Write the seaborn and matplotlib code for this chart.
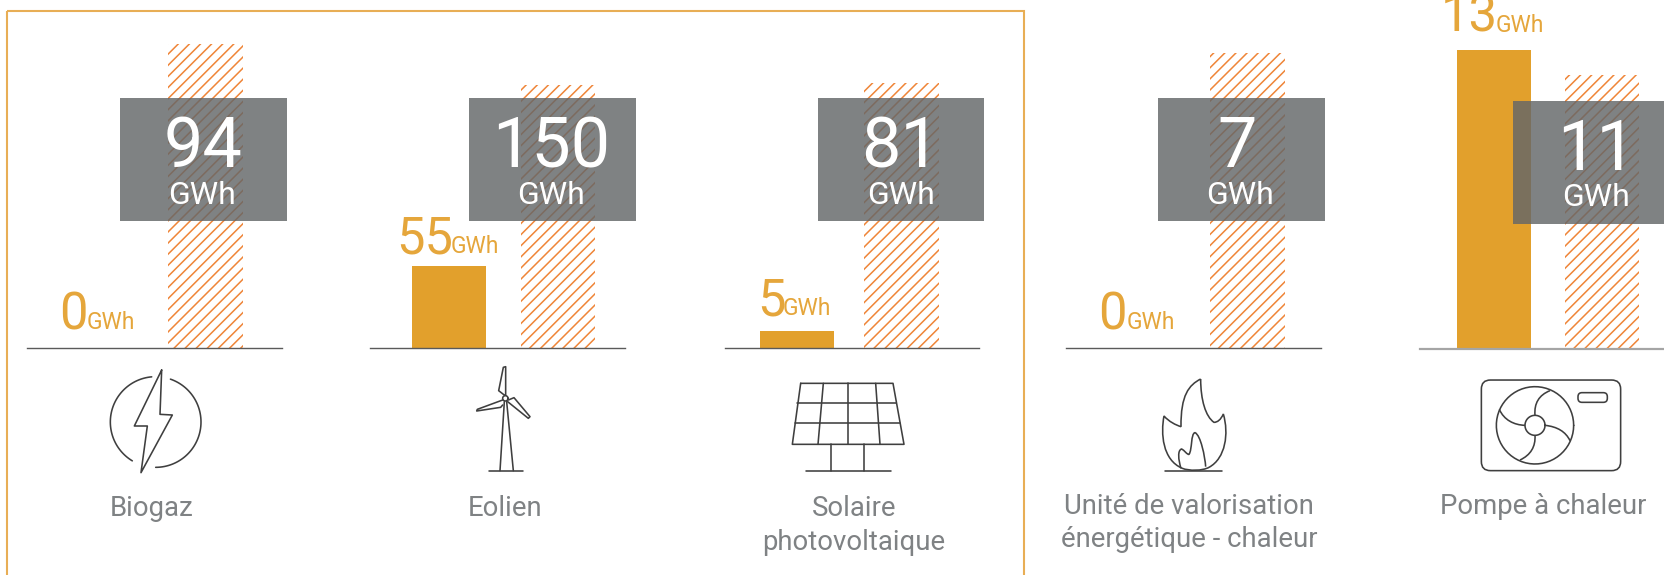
import matplotlib
matplotlib.use("Agg")
import matplotlib.pyplot as plt
import numpy as np
import pandas as pd
import seaborn as sns
from matplotlib.path import Path
from matplotlib.patches import PathPatch, Rectangle, FancyBboxPatch

# ---------- data ----------
categories = ["Biogaz", "Eolien", "Solaire\nphotovoltaique",
              "Unité de valorisation\nénergétique - chaleur", "Pompe à chaleur"]
series_names = ["Production", "Objectif"]
production_labels = ["0", "55", "5", "0", "13"]
objective_labels = ["94", "150", "81", "7", "11"]
unit = "GWh"
# bar heights (each panel has its own scale)
production_heights = [0, 46.6, 5, 0, 12]
objective_heights = [94, 150, 81, 7, 11]

# ---------- style ----------
W, H = 1665, 575
GOLD = "#E2A02C"
GOLD_TXT = "#E5A63B"
ORANGE = "#EF8538"
FRAME = "#E8AE55"
GREY_TXT = "#7F8284"
ICON = "#3F3F3F"
BOX = "#636668"
sns.set_theme(style="white")
plt.rcParams["font.family"] = ["Roboto", "DejaVu Sans"]
plt.rcParams["hatch.linewidth"] = 1.1

# panel layout in pixels
base_l = [27, 370, 725, 1066, 1420]
base_r = [282, 624.5, 979.5, 1320.5, 1676]
base_y = [347.5, 347.5, 347.5, 347.5, 349]
center0 = [97.5, 449, 797, 1139.5, 1494]
center1 = [205.5, 558, 901.5, 1247.5, 1602]
bar_w = 74.5
obj_top = [44, 85, 83, 53, 75]
base_col = ["#5A5A5A"] * 4 + ["#A5A5A5"]
base_lw = [1.0] * 4 + [1.6]
box_x = [(120, 287), (469, 636), (818, 984), (1158, 1325), (1513, 1680)]
box_y = [(98, 221)] * 4 + [(101, 224)]
big_cx = [203, 551, 901, 1237, 1597]
big_base = [167, 167, 167, 167, 170]
unit_cx = [202, 551, 901, 1240, 1596]
unit_base = [203.5, 203.5, 203.5, 203.5, 206]
gold_x = [59.5, 396, 757, 1098.5, 1441]
gold_ux = [87, 451, 783, 1127, 1496]
gold_base = [329, 253, 315, 329, 32]
label_cx = [152, 505, 854, 1189, 1543]
label_base = [516, 516, 516, 514, 514]
label_step = [33.5, 33.5, 33.5, 33, 33]

fig = plt.figure(figsize=(W / 100, H / 100), dpi=100, facecolor="white")

# ---------- bars ----------
for i, cat in enumerate(categories):
    l, r, by = base_l[i], base_r[i], base_y[i]
    ax = fig.add_axes([l / W, 1 - by / H, (r - l) / W, by / H], zorder=1)
    df = pd.DataFrame({"serie": series_names,
                       "valeur": [production_heights[i], objective_heights[i]]})
    step = center1[i] - center0[i]
    sns.barplot(data=df, x="serie", y="valeur", order=series_names, ax=ax,
                width=bar_w / step, color=GOLD, saturation=1, errorbar=None)
    bars = ax.patches
    bars[0].set_facecolor(GOLD)
    bars[0].set_linewidth(0)
    bars[1].set_facecolor("none")
    bars[1].set_edgecolor(ORANGE)
    bars[1].set_hatch("///")
    bars[1].set_linewidth(0)
    ax.set_xlim((l - center0[i]) / step, (r - center0[i]) / step)
    ax.set_ylim(0, objective_heights[i] * by / (by - obj_top[i]))
    ax.set_xlabel("")
    ax.set_ylabel("")
    ax.set_xticks([])
    ax.set_yticks([])
    ax.patch.set_alpha(0)
    sns.despine(ax=ax, left=True, top=True, right=True)
    ax.spines["bottom"].set_color(base_col[i])
    ax.spines["bottom"].set_linewidth(base_lw[i])

# ---------- overlay in pixel coordinates ----------
ov = fig.add_axes([0, 0, 1, 1], zorder=5)
ov.set_xlim(0, W)
ov.set_ylim(H, 0)
ov.axis("off")
ov.patch.set_alpha(0)

ov.add_patch(Rectangle((7.5, 11), 1016.5, 620, fill=False, ec=FRAME, lw=1.5, clip_on=True))

for i in range(5):
    (x0, x1), (y0, y1) = box_x[i], box_y[i]
    ov.add_patch(Rectangle((x0, y0), x1 - x0, y1 - y0, fc=BOX, ec="none", alpha=0.82, zorder=3))
    ov.text(big_cx[i], big_base[i], objective_labels[i], color="white", fontsize=50.5,
            ha="center", va="baseline", zorder=4)
    ov.text(unit_cx[i], unit_base[i], unit, color="white", fontsize=23,
            ha="center", va="baseline", zorder=4)
    ov.text(gold_x[i], gold_base[i], production_labels[i], color=GOLD_TXT, fontsize=36.5,
            ha="left", va="baseline", zorder=4)
    ov.text(gold_ux[i], gold_base[i], unit, color=GOLD_TXT, fontsize=16.5,
            ha="left", va="baseline", zorder=4)
    for k, line in enumerate(categories[i].split("\n")):
        ov.text(label_cx[i], label_base[i] + k * label_step[i], line, color=GREY_TXT,
                fontsize=19.8, ha="center", va="baseline", zorder=4)

# ---------- icons ----------
LW = 1.15


def mapper(ox, oy):
    return lambda p: (ox + p[0] / 3, oy + p[1] / 3)


def poly(m, pts, closed=False):
    v = [m(p) for p in pts]
    ov.plot([a for a, _ in v] + ([v[0][0]] if closed else []),
            [b for _, b in v] + ([v[0][1]] if closed else []),
            color=ICON, lw=LW, solid_joinstyle="round", solid_capstyle="round", zorder=4)


def curves(m, start, segs):
    verts = [m(start)]
    codes = [Path.MOVETO]
    for s in segs:
        verts += [m(q) for q in s]
        codes += [Path.CURVE4] * 3
    ov.add_patch(PathPatch(Path(verts, codes), fc="none", ec=ICON, lw=LW, zorder=4))


def arc(m, c, rad, a0, a1):
    t = np.radians(np.linspace(a0, a1, 60))
    poly(m, list(zip(c[0] + rad * np.cos(t), c[1] + rad * np.sin(t))))


# Biogaz
m = mapper(90, 350)
poly(m, [(215, 60), (210, 193), (247, 195), (153, 368), (172, 228), (133, 228)], closed=True)
arc(m, (197, 216), 136, -71, 90)
arc(m, (197, 216), 136, 121, 265)

# Eolien
m = mapper(460, 350)
poly(m, [(87, 362), (190, 362)])
poly(m, [(120, 362), (133, 155)])
poly(m, [(160, 362), (140, 155)])
arc(m, (136, 145), 8, 0, 360)
poly(m, [(134, 136), (116, 122), (130, 52), (137, 50), (137, 136)])
poly(m, [(128, 150), (52, 178), (50, 183), (122, 172), (128, 165)])
poly(m, [(145, 150), (162, 143), (210, 200), (205, 205), (143, 155)])

# Solaire
m = mapper(779, 370)
poly(m, [(65, 40), (342, 40), (375, 223), (40, 223)], closed=True)
poly(m, [(54, 100), (352, 100)])
poly(m, [(48, 160), (362, 160)])
poly(m, [(133, 40), (117, 223)])
poly(m, [(208, 40), (208, 223)])
poly(m, [(290, 40), (303, 223)])
poly(m, [(155, 223), (155, 302)])
poly(m, [(255, 223), (255, 302)])
poly(m, [(80, 302), (337, 302)])

# Flamme
m = mapper(1139, 370)
curves(m, (185, 27), [
    [(150, 45), (125, 75), (126, 170)],
    [(110, 165), (90, 155), (75, 138)],
    [(65, 190), (70, 270), (130, 295)],
    [(150, 303), (190, 303), (210, 292)],
    [(260, 265), (270, 190), (253, 132)],
    [(245, 150), (235, 157), (225, 157)],
    [(200, 140), (185, 90), (185, 27)],
])
curves(m, (126, 295), [
    [(118, 270), (115, 240), (128, 237)],
    [(135, 240), (145, 255), (150, 253)],
    [(160, 240), (155, 190), (168, 188)],
    [(185, 195), (198, 260), (200, 290)],
])
poly(m, [(78, 302), (250, 302)])

# Pompe a chaleur
ox, oy = 1464, 370
ov.add_patch(FancyBboxPatch((ox + 62 / 3, oy + 40 / 3), 398 / 3, 252 / 3,
                            boxstyle="round,pad=3.3,rounding_size=9", fc="none", ec=ICON, lw=LW, zorder=4))
ov.add_patch(FancyBboxPatch((ox + 348 / 3, oy + 74 / 3), 76 / 3, 17 / 3,
                            boxstyle="round,pad=2,rounding_size=4", fc="none", ec=ICON, lw=LW, zorder=4))
m = mapper(ox, oy)
arc(m, (213, 166), 116, 0, 360)
arc(m, (213, 166), 30, 0, 360)
curves(m, (213, 136), [[(210, 100), (225, 75), (258, 62)]])
curves(m, (243, 166), [[(280, 170), (305, 185), (318, 212)]])
curves(m, (213, 196), [[(215, 230), (200, 255), (168, 270)]])
curves(m, (183, 166), [[(150, 165), (120, 150), (106, 118)]])

fig.savefig("out.png", dpi=100, facecolor="white")
